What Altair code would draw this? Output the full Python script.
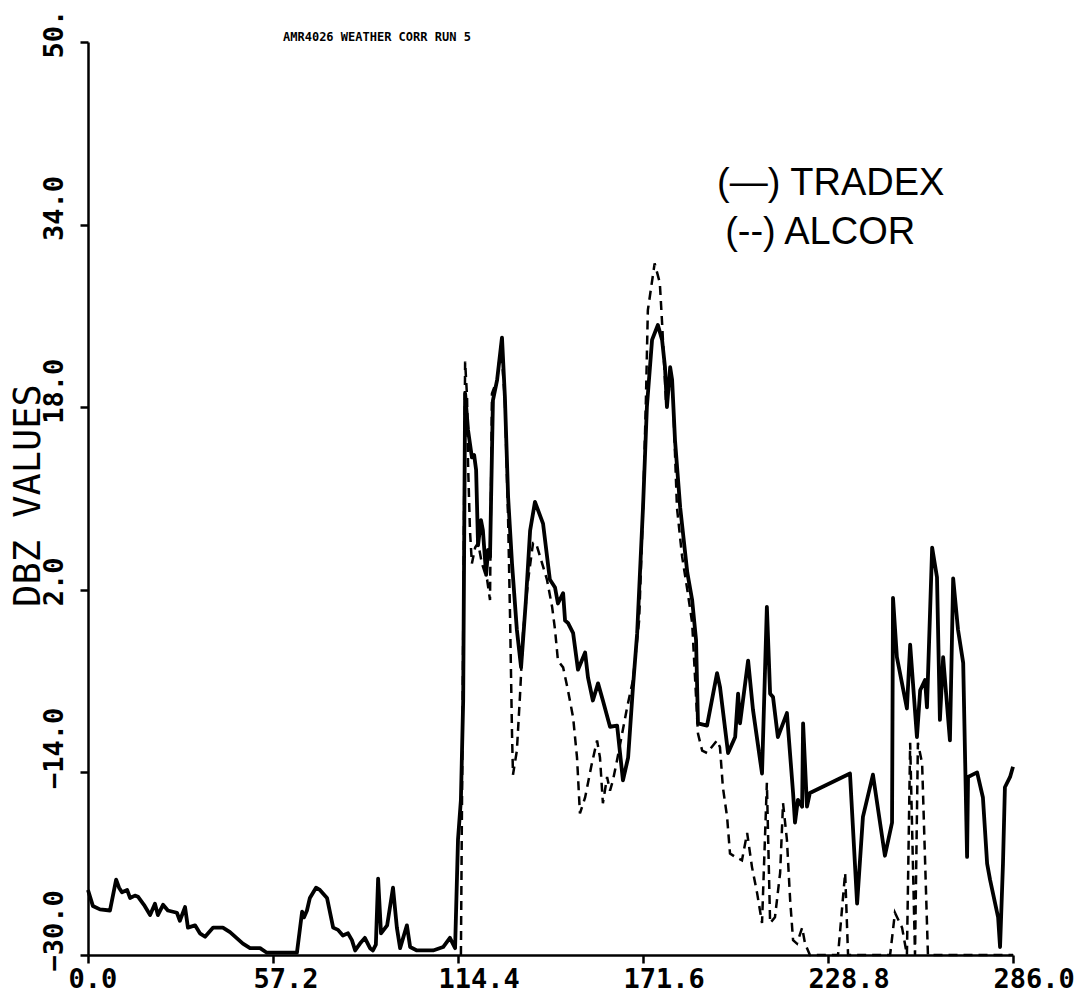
import altair as alt
import pandas as pd

# ---- data ----
tradex_x = [0.0, 1.5, 3.7, 6.8, 8.7, 9.6, 10.5, 12.1, 13.0, 14.5, 15.5, 17.3, 19.2, 20.7, 21.6, 23.2,
            24.7, 27.5, 28.4, 30.0, 30.9, 33.1, 34.6, 36.2, 38.7, 41.7, 43.9, 47.9, 50.1, 53.2, 55.3,
            59.4, 64.6, 66.2, 66.8, 67.7, 68.6, 70.5, 71.7, 73.9, 75.8, 77.3, 78.8, 80.4, 81.6, 82.6,
            84.1, 85.6, 87.2, 88.1, 89.0, 89.7, 90.6, 92.5, 94.3, 95.5, 96.5, 98.6, 99.6, 101.7, 106.7,
            109.8, 111.9, 113.5, 114.4, 115.3, 116.0, 116.6, 117.5, 118.7, 119.4, 120.0, 120.6, 121.5,
            122.1, 123.1, 123.7, 124.3, 125.2, 126.5, 128.0, 128.9, 129.9, 131.1, 132.6, 133.9, 135.4,
            136.7, 138.2, 140.7, 142.8, 144.4, 145.3, 146.9, 147.5, 148.4, 150.0, 151.5, 153.7, 154.6,
            156.1, 157.7, 159.2, 161.4, 163.6, 165.4, 167.0, 168.5, 169.8, 171.6, 172.8, 174.4, 176.2,
            177.5, 178.4, 179.0, 180.0, 180.6, 181.5, 183.1, 185.3, 186.8, 188.0, 188.6, 191.4, 194.5,
            195.4, 197.9, 200.1, 201.0, 201.6, 204.1, 205.6, 208.4, 209.9, 210.9, 211.8, 213.3, 214.9,
            216.1, 218.0, 218.6, 219.5, 220.8, 221.1, 222.3, 223.2, 235.6, 237.8, 239.6, 242.7, 246.4,
            248.6, 248.9, 250.1, 253.2, 254.2, 256.3, 257.3, 258.8, 259.4, 261.0, 262.5, 263.4, 264.4,
            266.5, 267.5, 269.0, 270.6, 271.8, 272.1, 274.9, 276.7, 278.0, 278.9, 281.4, 282.0, 282.9,
            283.5, 285.1, 286.0]
tradex_y = [-24.3, -25.7, -26.0, -26.1, -23.4, -24.1, -24.5, -24.3, -25.0, -24.8, -24.9, -25.6, -26.5,
            -25.5, -26.5, -25.6, -26.1, -26.3, -27.0, -25.8, -27.6, -27.4, -28.1, -28.4, -27.6, -27.6,
            -28.0, -29.0, -29.4, -29.4, -29.8, -29.8, -29.8, -26.2, -26.7, -26.1, -25.0, -24.1, -24.3,
            -25.0, -27.6, -27.8, -28.3, -28.1, -28.7, -29.6, -29.0, -28.5, -29.4, -29.6, -29.1, -23.3,
            -28.1, -27.4, -24.1, -27.6, -29.4, -27.4, -29.3, -29.6, -29.6, -29.3, -28.5, -29.4, -19.9,
            -16.4, -7.7, 19.2, 16.0, 13.6, 13.8, 12.5, 5.9, 8.1, 7.2, 3.3, 5.5, 4.9, 18.6, 20.4, 24.1,
            18.9, 10.1, 4.3, -1.5, -4.8, 1.1, 7.2, 9.7, 7.8, 2.9, 2.2, 0.8, 1.7, -0.7, -0.9, -1.8, -5.0,
            -3.5, -5.7, -7.7, -6.2, -7.7, -10.0, -9.9, -14.7, -12.7, -6.5, -1.8, 9.2, 18.0, 23.9, 25.2,
            23.9, 21.5, 18.0, 21.5, 20.4, 15.1, 9.2, 3.5, 1.1, -2.4, -9.7, -9.9, -5.3, -6.5, -12.3,
            -10.9, -7.1, -9.7, -4.2, -8.5, -14.1, 0.5, -7.1, -7.4, -10.9, -9.7, -8.8, -15.8, -18.4,
            -16.4, -17.0, -9.7, -17.0, -15.8, -14.1, -25.5, -17.9, -14.2, -21.3, -18.4, 1.3, -3.9, -8.4,
            -2.8, -10.9, -6.8, -5.9, -8.3, 5.7, 3.1, -9.4, -3.9, -11.2, 3.0, -1.5, -4.4, -21.4, -14.4,
            -14.0, -16.2, -22.0, -23.4, -26.7, -29.3, -22.0, -15.3, -14.4, -13.5]

alcor_x = [115.3, 116.6, 117.2, 117.5, 118.1, 118.7, 119.7, 120.6, 121.8, 123.4, 124.3, 124.9, 126.5,
           127.7, 128.9, 129.9, 130.5, 131.1, 131.4, 132.6, 133.6, 134.5, 136.1, 137.6, 138.5, 139.8,
           141.9, 143.5, 144.4, 145.3, 146.9, 148.4, 150.0, 151.2, 152.1, 153.7, 155.8, 157.4, 158.3,
           159.2, 160.5, 161.4, 162.3, 163.6, 166.7, 168.5, 170.4, 171.6, 172.5, 173.1, 175.2, 176.8,
           177.5, 178.7, 180.0, 180.9, 182.1, 183.7, 185.3, 186.8, 188.6, 189.9, 191.4, 194.5, 195.4,
           196.3, 197.6, 198.5, 200.1, 202.2, 203.8, 205.3, 206.9, 208.4, 209.9, 210.9, 212.4, 214.0,
           214.9, 216.1, 217.1, 218.0, 219.2, 220.8, 221.7, 223.2, 231.9, 234.1, 235.0, 248.0, 249.5,
           251.7, 253.2, 254.2, 255.7, 256.6, 257.9, 259.7, 286.0]
alcor_y = [-30.0, 22.0, 18.9, 13.1, 7.2, 4.3, 5.7, 6.1, 4.3, 2.9, 1.1, 19.2, 20.4, 23.4, 18.6, 8.1,
           -0.4, -10.6, -14.2, -12.1, -7.1, -1.8, 2.9, 6.1, 6.1, 4.9, 2.9, 0.5, -1.5, -4.2, -4.8, -6.8,
           -9.2, -12.7, -17.6, -16.2, -13.2, -11.2, -12.7, -16.7, -14.4, -15.6, -14.7, -12.9, -8.3,
           -5.9, -0.7, 9.0, 18.6, 26.5, 30.6, 28.9, 25.4, 18.6, 21.3, 18.6, 9.2, 4.9, 2.0, -0.9, -10.6,
           -12.1, -12.3, -11.2, -11.8, -15.3, -17.9, -21.1, -21.4, -21.7, -19.3, -22.3, -24.6, -27.2,
           -14.9, -27.2, -26.7, -22.8, -16.7, -19.9, -25.2, -28.7, -29.0, -27.6, -29.0, -30.0, -30.0,
           -22.8, -30.0, -30.0, -26.3, -27.6, -30.0, -11.4, -30.0, -11.4, -13.2, -30.0, -30.0]

x_ticks = [0.0, 57.2, 114.4, 171.6, 228.8, 286.0]
y_ticks = [-30, -14, 2, 18, 34, 50]

legend_labels = ["(\u2014) TRADEX", "(--) ALCOR"]
legend_x = [194.5, 197.0]
legend_y = [37.6, 33.3]

run_title = ["AMR4026 WEATHER CORR RUN 5"]
run_title_x = [60.3]
run_title_y = [50.45]

# ---- tables ----
df_t = pd.DataFrame({"x": tradex_x, "y": tradex_y, "i": list(range(len(tradex_x)))})
df_a = pd.DataFrame({"x": alcor_x, "y": alcor_y, "i": list(range(len(alcor_x)))})
df_leg = pd.DataFrame({"x": legend_x, "y": legend_y, "label": legend_labels})
df_title = pd.DataFrame({"x": run_title_x, "y": run_title_y, "label": run_title})

xscale = alt.Scale(domain=[0, 286], nice=False, zero=False)
yscale = alt.Scale(domain=[-30, 50], nice=False, zero=False)

xaxis = alt.Axis(
    values=x_ticks, labelExpr="format(datum.value, '.1f')", title=None, grid=False,
    domainColor="black", domainWidth=2.5, tickColor="black", tickWidth=2.5, tickSize=8,
    labelFont="DejaVu Sans Mono", labelFontWeight="bold", labelFontSize=27, labelColor="black",
    labelAlign="left", labelOffset=-20, labelPadding=3, labelFlush=False, labelOverlap=False,
)
yaxis = alt.Axis(
    values=y_ticks, labelExpr="datum.value == 50 ? '50.' : format(datum.value, '.1f')",
    title="DBZ VALUES", titleAngle=270, titleX=-60, titleY=453, titleAlign="center",
    titleBaseline="middle", titleFont="DejaVu Sans Mono", titleFontSize=37, titleFontWeight="normal",
    titleColor="black", grid=False,
    domainColor="black", domainWidth=2.5, tickColor="black", tickWidth=2.5, tickSize=8,
    labelFont="DejaVu Sans Mono", labelFontWeight="bold", labelFontSize=27, labelColor="black",
    labelAngle=270, labelAlign="left", labelBaseline="bottom", labelOffset=16, labelPadding=12,
    labelFlush=False, labelOverlap=False,
)

X = alt.X("x:Q", scale=xscale, axis=xaxis)
Y = alt.Y("y:Q", scale=yscale, axis=yaxis)

tradex = alt.Chart(df_t).mark_line(color="black", strokeWidth=3.8, strokeJoin="round").encode(
    x=X, y=Y, order="i:Q")
alcor = alt.Chart(df_a).mark_line(color="black", strokeWidth=2.5, strokeDash=[9, 6]).encode(
    x=X, y=Y, order="i:Q")

legend = alt.Chart(df_leg).mark_text(
    align="left", baseline="middle", font="Liberation Sans", fontSize=38, color="black"
).encode(x=X, y=Y, text="label:N")

title = alt.Chart(df_title).mark_text(
    align="left", baseline="middle", font="DejaVu Sans Mono", fontWeight="bold", fontSize=12,
    color="black"
).encode(x=X, y=Y, text="label:N")

chart = alt.layer(alcor, tradex, legend, title).properties(
    width=925, height=913,
    autosize=alt.AutoSizeParams(type="none"),
    padding={"left": 88, "top": 42, "right": 74, "bottom": 43},
    background="white",
).configure_view(stroke=None)

chart.save("out.html", embed_options={"renderer": "svg", "actions": False})
